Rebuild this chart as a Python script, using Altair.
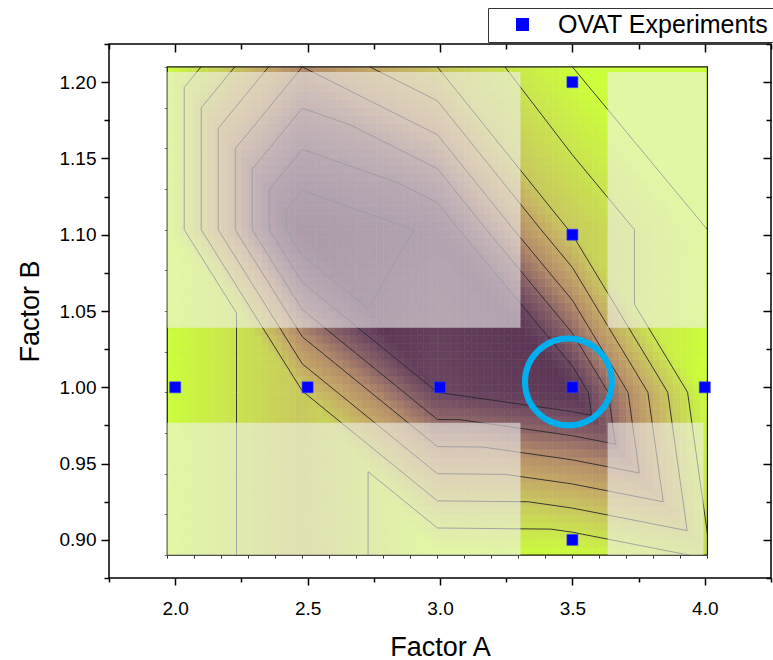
import altair as alt
import pandas as pd

# ---------------- data ----------------
# response matrix behind the contour plot (nodes of the mesh), in contour-level units
grid_a = [1.97, 2.48, 2.99, 3.50, 4.01]          # Factor A nodes
grid_b = [0.89, 0.9967, 1.1033, 1.21]            # Factor B nodes
resp_b0890 = [7.0, 5.05, 7.0, 6.95, 5.85]
resp_b0997 = [7.0, 5.05, 1.0, 0.2, 7.0]
resp_b1103 = [7.0, -0.95, 0.2, 5.15, 7.0]
resp_b1210 = [7.0, 3.0, 5.0, 7.0, 7.6]
response_rows = [resp_b0890, resp_b0997, resp_b1103, resp_b1210]

contour_levels = [0, 1, 2, 3, 4, 5, 6, 7]

# semi-transparent shading boxes (everything outside the cross through the optimum)
shade_a1 = [1.97, 3.633, 1.97, 3.633]
shade_a2 = [3.304, 4.005, 3.304, 3.995]
shade_b1 = [1.039, 1.039, 0.89, 0.89]
shade_b2 = [1.2066, 1.2066, 0.9767, 0.9767]

# OVAT experiments
ovat_a = [2.0, 2.5, 3.0, 3.5, 4.0, 3.5, 3.5, 3.5]
ovat_b = [1.0, 1.0, 1.0, 1.0, 1.0, 1.2, 1.1, 0.9]

# highlighted optimum
best_a = [3.485]
best_b = [1.0035]

# ticks
x_major = [2.0, 2.5, 3.0, 3.5, 4.0]
x_minor = [1.75, 2.25, 2.75, 3.25, 3.75, 4.25]
y_major = [0.90, 0.95, 1.00, 1.05, 1.10, 1.15, 1.20]
y_minor = [0.875, 0.925, 0.975, 1.025, 1.075, 1.125, 1.175, 1.225]
# small matrix ticks along the contour surface's bottom and left edges
n_col_ticks = 20
n_row_ticks = 12
surf_x_ticks = [grid_a[0] + (grid_a[-1] - grid_a[0]) * k / n_col_ticks for k in range(n_col_ticks + 1)]
surf_y_ticks = [grid_b[0] + (grid_b[-1] - grid_b[0]) * k / n_row_ticks for k in range(n_row_ticks + 1)]

# ---------------- contour-plot rendering of the matrix ----------------
# each matrix cell is split along its "\" diagonal into two triangles (linear shading),
# the way the original contour plot shades the surface
SUB = 20
cells = []
for j in range(len(grid_b) - 1):
    for i in range(len(grid_a) - 1):
        bl, br = response_rows[j][i], response_rows[j][i + 1]
        tl, tr = response_rows[j + 1][i], response_rows[j + 1][i + 1]
        a0, a1 = grid_a[i], grid_a[i + 1]
        b0, b1 = grid_b[j], grid_b[j + 1]
        for p in range(SUB):
            for q in range(SUB):
                u = (p + 0.5) / SUB
                v = (q + 0.5) / SUB
                if u + v <= 1:
                    z = bl + (br - bl) * u + (tl - bl) * v
                else:
                    z = tr + (tl - tr) * (1 - u) + (br - tr) * (1 - v)
                cells.append({
                    "a1": a0 + (a1 - a0) * p / SUB, "a2": a0 + (a1 - a0) * (p + 1) / SUB,
                    "b1": b0 + (b1 - b0) * q / SUB, "b2": b0 + (b1 - b0) * (q + 1) / SUB,
                    "z": round(z, 3),
                })
cells = pd.DataFrame(cells)

# contour lines (marching triangles on the same triangulation)
segs = []
for j in range(len(grid_b) - 1):
    for i in range(len(grid_a) - 1):
        p00 = (grid_a[i], grid_b[j], response_rows[j][i])
        p10 = (grid_a[i + 1], grid_b[j], response_rows[j][i + 1])
        p01 = (grid_a[i], grid_b[j + 1], response_rows[j + 1][i])
        p11 = (grid_a[i + 1], grid_b[j + 1], response_rows[j + 1][i + 1])
        for tri in ((p00, p10, p01), (p10, p11, p01)):
            for lv in contour_levels:
                L = lv + 1e-6
                pts = []
                for ia, ib in ((0, 1), (1, 2), (2, 0)):
                    za, zb = tri[ia][2], tri[ib][2]
                    if (za - L) * (zb - L) < 0:
                        t = (L - za) / (zb - za)
                        pts.append((tri[ia][0] + t * (tri[ib][0] - tri[ia][0]),
                                    tri[ia][1] + t * (tri[ib][1] - tri[ia][1])))
                if len(pts) == 2:
                    segs.append({"a1": pts[0][0], "b1": pts[0][1], "a2": pts[1][0], "b2": pts[1][1]})
segs = pd.DataFrame(segs)

region = pd.DataFrame({"a1": [grid_a[0]], "a2": [grid_a[-1]], "b1": [grid_b[0]], "b2": [grid_b[-1]]})
shades = pd.DataFrame({"a1": shade_a1, "a2": shade_a2, "b1": shade_b1, "b2": shade_b2})
ovat = pd.DataFrame({"a": ovat_a, "b": ovat_b, "series": ["OVAT Experiments"] * len(ovat_a)})
best = pd.DataFrame({"a": best_a, "b": best_b})

# ---------------- styling ----------------
FONT = "Liberation Sans"
W, H = 662, 534
XDOM = [1.75, 4.25]
YDOM = [0.875, 1.225]
xs = alt.Scale(domain=XDOM, nice=False, zero=False)
ys = alt.Scale(domain=YDOM, nice=False, zero=False)

color_scale = alt.Scale(
    domain=[-1, 0, 1, 2, 3, 4, 5, 6, 7, 8],
    range=["#4a2246", "#583353", "#6b4660", "#8d6567", "#b48c69",
           "#c4a866", "#c8c65e", "#c9e34f", "#ccfe3a", "#ccff38"],
    interpolate="rgb",
)

def ax(orient, values, size, offset=0, labels=False, fmt=None, title=None, width=1.5, color="black"):
    kw = dict(orient=orient, values=values, tickSize=size, tickWidth=width, tickColor=color,
              domain=False, grid=False, labels=labels, offset=offset, title=title)
    if labels:
        kw.update(format=fmt, labelFont=FONT, labelFontSize=19, labelColor="black",
                  labelPadding=14 if orient == "bottom" else 5)
    if title:
        kw.update(titleFont=FONT, titleFontSize=27, titleFontWeight="normal", titleColor="black",
                  titlePadding=16 if orient == "bottom" else 15)
    return alt.Axis(**kw)

# offsets that put the small matrix ticks on the surface edges
surf_bottom_off = -(grid_b[0] - YDOM[0]) / (YDOM[1] - YDOM[0]) * H
surf_left_off = -(grid_a[0] - XDOM[0]) / (XDOM[1] - XDOM[0]) * W

ax_b_major = ax("bottom", x_major, 7, labels=True, fmt=".1f", title="Factor A")
ax_b_minor = ax("bottom", x_minor, 4)
ax_t_major = ax("top", x_major, 8, offset=-8)
ax_t_minor = ax("top", x_minor, 5, offset=-5)
ax_l_major = ax("left", y_major, 8, labels=True, fmt=".2f", title="Factor B")
ax_l_minor = ax("left", y_minor, 5)
ax_r_major = ax("right", y_major, 8, offset=-8)
ax_r_minor = ax("right", y_minor, 5, offset=-5)
ax_surf_x = ax("bottom", surf_x_ticks, 3, offset=surf_bottom_off, width=1, color="#333333")
ax_surf_y = ax("left", surf_y_ticks, 3, offset=surf_left_off, width=1, color="#777777")

heat = alt.Chart(cells).mark_rect(strokeWidth=0.6).encode(
    x=alt.X("a1:Q", scale=xs, axis=ax_b_major),
    x2="a2:Q",
    y=alt.Y("b1:Q", scale=ys, axis=ax_l_major),
    y2="b2:Q",
    color=alt.Color("z:Q", scale=color_scale, legend=None),
    stroke=alt.Stroke("z:Q", scale=color_scale, legend=None),
)

contours = alt.Chart(segs).mark_rule(color="#2a2a2a", strokeWidth=1, opacity=0.9).encode(
    x=alt.X("a1:Q", scale=xs, axis=ax_b_minor),
    x2="a2:Q",
    y=alt.Y("b1:Q", scale=ys, axis=ax_l_minor),
    y2="b2:Q",
)

border = alt.Chart(region).mark_rect(fillOpacity=0, stroke="#1a1a1a", strokeWidth=1.2).encode(
    x=alt.X("a1:Q", scale=xs, axis=ax_t_major),
    x2="a2:Q",
    y=alt.Y("b1:Q", scale=ys, axis=ax_r_major),
    y2="b2:Q",
)

shade = alt.Chart(shades).mark_rect(fill="#f2f2f2", fillOpacity=0.58).encode(
    x=alt.X("a1:Q", scale=xs, axis=ax_t_minor),
    x2="a2:Q",
    y=alt.Y("b1:Q", scale=ys, axis=ax_r_minor),
    y2="b2:Q",
)

points = alt.Chart(ovat).mark_point(shape="square", filled=True, size=121, opacity=1,
                                     stroke="#3340ff", strokeWidth=0.6).encode(
    x=alt.X("a:Q", scale=xs, axis=ax_surf_x),
    y=alt.Y("b:Q", scale=ys, axis=ax_surf_y),
    color=alt.Color("series:N", scale=alt.Scale(domain=["OVAT Experiments"], range=["#0000ff"]),
                    legend=alt.Legend(orient="none", legendX=379, legendY=-36, title=None,
                                      symbolType="square", symbolSize=169, symbolStrokeWidth=0,
                                      labelFont=FONT, labelFontSize=25, labelColor="black",
                                      labelLimit=400,
                                      strokeColor="#333333", fillColor="white", padding=4,
                                      symbolOffset=18, labelOffset=23)),
)

circle = alt.Chart(best).mark_point(shape="circle", filled=False, size=7543, stroke="#00b0ee",
                                     strokeWidth=6, opacity=1).encode(
    x=alt.X("a:Q", scale=xs, axis=None),
    y=alt.Y("b:Q", scale=ys, axis=None),
)

chart = alt.layer(heat, contours, border, shade, points, circle).resolve_scale(
    color="independent", stroke="independent"
).resolve_axis(x="independent", y="independent").properties(
    width=W, height=H,
    padding={"left": 109, "top": 44, "right": 2, "bottom": 82},
    autosize=alt.AutoSizeParams(type="none"),
).configure_view(stroke="black", strokeWidth=1.5)

chart.save("out.html", embed_options={"renderer": "svg", "actions": False})
